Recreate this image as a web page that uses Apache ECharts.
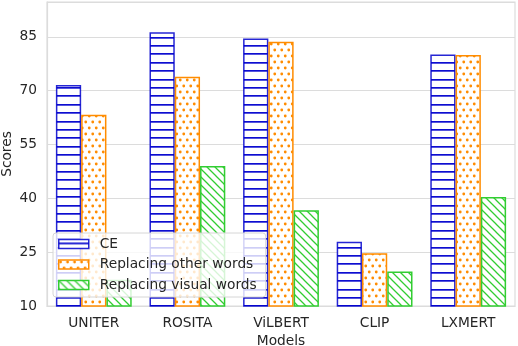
<!DOCTYPE html>
<html>
<head>
<meta charset="utf-8">
<script src="https://cdn.jsdelivr.net/npm/echarts@6/dist/echarts.min.js"></script>
<style>
  html, body { margin: 0; padding: 0; background: #ffffff; }
  #chart { width: 518px; height: 346px; }
</style>
</head>
<body>
<div id="chart"></div>
<script>
const models = ['UNITER', 'ROSITA', 'ViLBERT', 'CLIP', 'LXMERT'];
const ceScores = [71.6, 86.3, 84.5, 27.9, 80.1];
const otherWordsScores = [63.3, 73.9, 83.6, 24.7, 79.9];
const visualWordsScores = [17.3, 49.0, 36.7, 19.6, 40.4];
const yTicks = { min: 10, max: 94.7, interval: 15 };

function makeTile(w, h, draw) {
  const c = document.createElement('canvas');
  c.width = w; c.height = h;
  const ctx = c.getContext('2d');
  ctx.fillStyle = '#ffffff';
  ctx.fillRect(0, 0, w, h);
  draw(ctx);
  return c;
}
const blueTile = makeTile(8, 42, ctx => {
  ctx.fillStyle = 'rgba(0,0,205,0.95)';
  [0, 8, 17, 25, 34].forEach(y => ctx.fillRect(0, y + 3, 8, 1.7));
});
const orangeTile = makeTile(7, 12, ctx => {
  ctx.fillStyle = '#ff8c00';
  [[1.75, 2], [5.25, 8]].forEach(([x, y]) => {
    ctx.beginPath(); ctx.arc(x, y, 1.4, 0, Math.PI * 2); ctx.fill();
  });
});
const greenTile = makeTile(8, 8, ctx => {
  ctx.strokeStyle = '#32cd32';
  ctx.lineWidth = 1.3;
  ctx.beginPath();
  ctx.moveTo(-1, -1); ctx.lineTo(9, 9);
  ctx.moveTo(-1, 7); ctx.lineTo(1, 9);
  ctx.moveTo(7, -1); ctx.lineTo(9, 1);
  ctx.stroke();
});

const font = 'DejaVu Sans';
const textColor = '#262626';
const gridColor = '#dcdcdc';

function barSeries(name, data, tile, edge) {
  return {
    name: name,
    type: 'bar',
    data: data,
    barGap: '0%',
    barCategoryGap: '19%',
    itemStyle: {
      color: { image: tile, repeat: 'repeat' },
      borderColor: edge,
      borderWidth: 1.5
    },
    emphasis: { disabled: true }
  };
}

const chart = echarts.init(document.getElementById('chart'), null, { renderer: 'canvas' });
chart.setOption({
  animation: false,
  backgroundColor: '#ffffff',
  textStyle: { fontFamily: font },
  grid: {
    left: 47, right: 3, top: 2, bottom: 40,
    containLabel: false,
    outerBoundsMode: 'none',
    show: true, borderColor: gridColor, borderWidth: 1.2, backgroundColor: 'transparent'
  },
  legend: {
    orient: 'vertical',
    left: 53, top: 233,
    padding: [3, 9, 4, 5],
    itemGap: 4.5,
    itemWidth: 30,
    itemHeight: 9,
    icon: 'rect',
    backgroundColor: 'rgba(255,255,255,0.8)',
    borderColor: '#d6d6d6',
    borderWidth: 1,
    borderRadius: 3,
    itemStyle: { borderWidth: 1.5 },
    textStyle: { fontFamily: font, fontSize: 13.75, color: textColor, lineHeight: 16, padding: [0, 0, 0, 6] },
    data: ['CE', 'Replacing other words', 'Replacing visual words']
  },
  xAxis: {
    type: 'category',
    data: models,
    name: 'Models',
    nameLocation: 'middle',
    nameGap: 35,
    nameMoveOverlap: false,
    nameTextStyle: { fontFamily: font, fontSize: 13.75, color: textColor, verticalAlign: 'middle' },
    axisTick: { show: false },
    axisLine: { show: true, lineStyle: { color: gridColor, width: 1.2 } },
    axisLabel: { fontFamily: font, fontSize: 13.75, color: textColor, margin: 10 }
  },
  yAxis: {
    type: 'value',
    min: yTicks.min, max: yTicks.max, interval: yTicks.interval,
    name: 'Scores',
    nameLocation: 'middle',
    nameRotate: 90,
    nameGap: 40,
    nameMoveOverlap: false,
    nameTextStyle: { fontFamily: font, fontSize: 13.75, color: textColor, verticalAlign: 'middle' },
    axisLine: { show: true, lineStyle: { color: gridColor, width: 1.2 } },
    axisTick: { show: false },
    splitLine: { show: true, lineStyle: { color: gridColor, width: 1.2 } },
    axisLabel: { fontFamily: font, fontSize: 13.75, color: textColor, margin: 10, showMaxLabel: false }
  },
  series: [
    barSeries('CE', ceScores, blueTile, 'rgba(0,0,205,0.85)'),
    barSeries('Replacing other words', otherWordsScores, orangeTile, '#ff8c00'),
    barSeries('Replacing visual words', visualWordsScores, greenTile, '#32cd32')
  ]
});
</script>
</body>
</html>
